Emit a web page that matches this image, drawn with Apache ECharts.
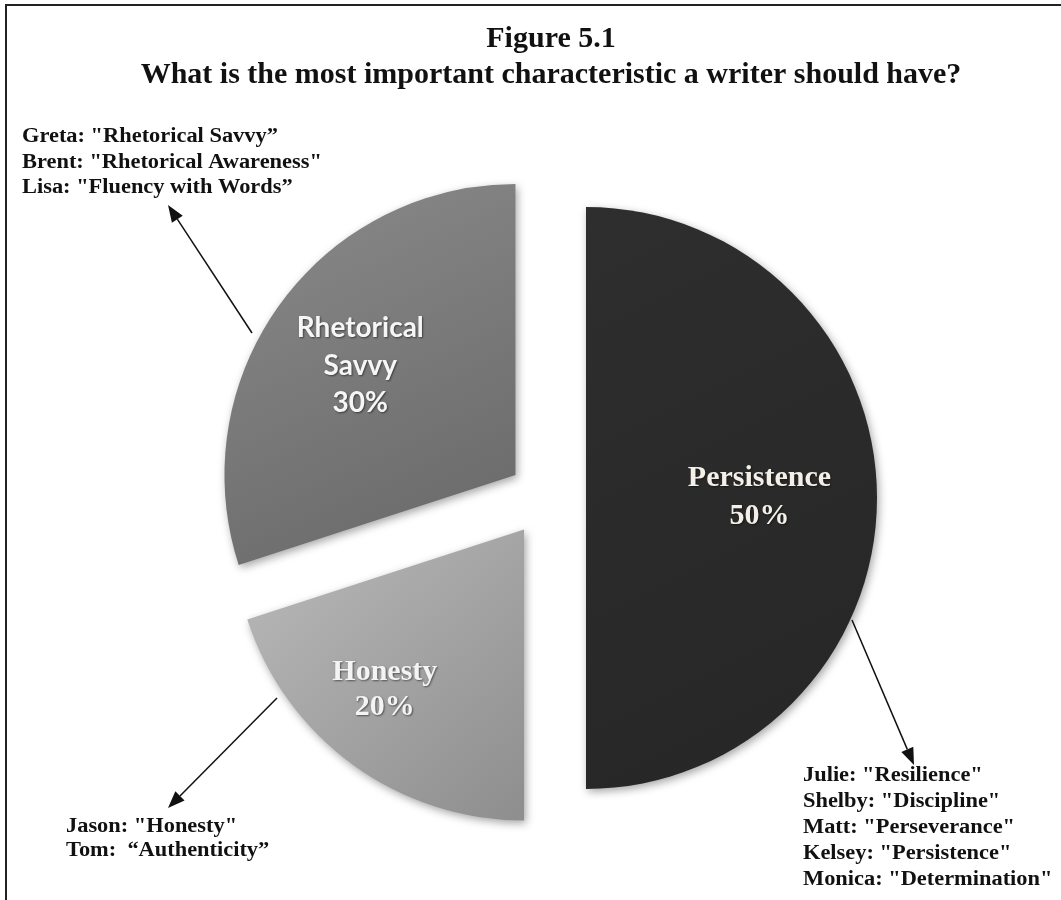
<!DOCTYPE html>
<html>
<head>
<meta charset="utf-8">
<script src="https://cdn.jsdelivr.net/npm/echarts@6/dist/echarts.min.js"></script>
<style>
html,body{margin:0;padding:0;background:#fff;}
#chart{width:1061px;height:900px;}
</style>
</head>
<body>
<div id="chart"></div>
<script>
// Data
const categories = ['Persistence', 'Honesty', 'Rhetorical Savvy'];
const labelTexts = ['Persistence\n50%', 'Honesty\n20%', 'Rhetorical\nSavvy\n30%'];
const values = [50, 20, 30];
const titleText = 'Figure 5.1';
const subtitleText = 'What is the most important characteristic a writer should have?';
const notesRhetorical = ['Greta: "Rhetorical Savvy\u201D', 'Brent: "Rhetorical Awareness"', 'Lisa: "Fluency with Words\u201D'];
const notesHonesty = ['Jason: "Honesty"', 'Tom:  \u201CAuthenticity\u201D'];
const notesPersistence = ['Julie: "Resilience"', 'Shelby: "Discipline"', 'Matt: "Perseverance"', 'Kelsey: "Persistence"', 'Monica: "Determination"'];

const chart = echarts.init(document.getElementById('chart'), null, {renderer: 'canvas'});
const G = echarts.graphic;

const fills = [
  new G.LinearGradient(0, 0, 1, 1, [{offset: 0, color: '#2e2e2e'}, {offset: 1, color: '#262626'}]),
  new G.LinearGradient(0, 0, 1, 1, [{offset: 0, color: '#bababa'}, {offset: 1, color: '#8e8e8e'}]),
  new G.LinearGradient(0, 0, 0.6, 1, [{offset: 0, color: '#8a8a8a'}, {offset: 1, color: '#6b6b6b'}])
];
const labelStyles = [
  {fontFamily: 'Liberation Serif', fontSize: 30, fontWeight: 'bold', color: '#f4f0e8', lineHeight: 38},
  {fontFamily: 'Liberation Serif', fontSize: 30, fontWeight: 'bold', color: '#f4f4f4', lineHeight: 35},
  {fontFamily: 'Lato', fontSize: 28, fontWeight: 'bold', color: '#f6f6f6', lineHeight: 37.5}
];
const labelShift = [[25, -1], [-52, 40], [-35, -22]];

const pieData = categories.map((c, i) => ({
  name: c,
  value: values[i],
  selected: true,
  itemStyle: {color: fills[i]},
  label: Object.assign({formatter: labelTexts[i]}, labelStyles[i])
}));

function arrow(x1, y1, x2, y2) {
  const ang = Math.atan2(y2 - y1, x2 - x1);
  const L = 17, W = 6.5;
  const bx = x2 - L * Math.cos(ang), by = y2 - L * Math.sin(ang);
  const px = -Math.sin(ang) * W, py = Math.cos(ang) * W;
  return [
    {type: 'line', shape: {x1: x1, y1: y1, x2: bx, y2: by}, style: {stroke: '#111', lineWidth: 1.5}, z: 10},
    {type: 'polygon', shape: {points: [[x2, y2], [bx + px, by + py], [bx - px, by - py]]}, style: {fill: '#111'}, z: 10}
  ];
}
function noteBlock(lines, x, y, lh) {
  return lines.map((t, i) => ({
    type: 'text', x: x, y: y + i * lh, scaleX: 1.12, z: 10,
    style: {text: t, x: 0, y: 0, fill: '#111', font: 'bold 20px "Liberation Serif"', textVerticalAlign: 'top'}
  }));
}

const graphics = [
  {type: 'rect', shape: {x: 6, y: 5, width: 1100, height: 1000}, style: {fill: 'none', stroke: '#222', lineWidth: 2}, z: 0}
].concat(
  arrow(252, 333, 168, 205),
  arrow(852, 620, 914, 765),
  arrow(277, 698, 168, 808),
  noteBlock(notesRhetorical, 22, 127, 25.5),
  noteBlock(notesHonesty, 66, 817, 24),
  noteBlock(notesPersistence, 803, 766, 26)
);

chart.setOption({
  animation: false,
  backgroundColor: '#ffffff',
  title: {
    text: titleText,
    subtext: subtitleText,
    left: 546,
    textAlign: 'center',
    top: 19,
    itemGap: 6,
    textStyle: {fontFamily: 'Liberation Serif', fontSize: 30, lineHeight: 30, fontWeight: 'bold', color: '#111'},
    subtextStyle: {fontFamily: 'Liberation Serif', fontSize: 30, lineHeight: 30, fontWeight: 'bold', color: '#111'}
  },
  graphic: graphics,
  series: [{
    type: 'pie',
    center: [547, 498],
    radius: [0, 291],
    startAngle: 90,
    clockwise: true,
    selectedMode: 'multiple',
    selectedOffset: 39,
    silent: true,
    label: {show: true, position: 'inside', align: 'center',
      textShadowColor: 'rgba(0,0,0,0.5)', textShadowBlur: 2, textShadowOffsetX: 1, textShadowOffsetY: 1},
    labelLayout: function (p) { return {dx: labelShift[p.dataIndex][0], dy: labelShift[p.dataIndex][1]}; },
    labelLine: {show: false},
    itemStyle: {shadowBlur: 8, shadowColor: 'rgba(0,0,0,0.35)', shadowOffsetX: 2, shadowOffsetY: 3},
    emphasis: {disabled: true},
    data: pieData
  }]
});
</script>
</body>
</html>
